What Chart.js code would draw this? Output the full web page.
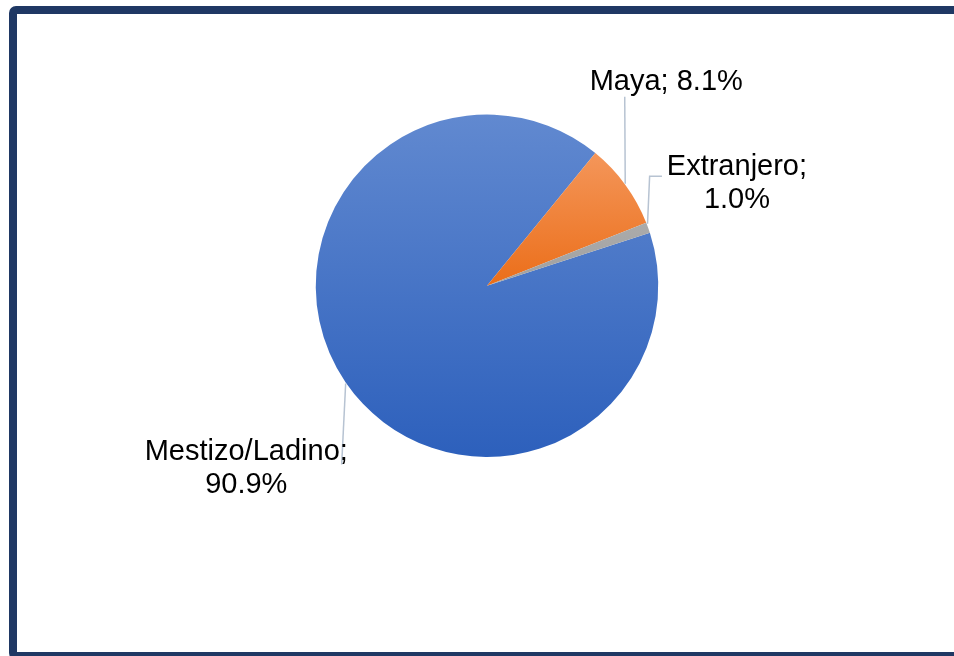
<!DOCTYPE html>
<html><head><meta charset="utf-8">
<script src="https://cdn.jsdelivr.net/npm/chart.js@4/dist/chart.umd.min.js"></script>
<style>
html,body{margin:0;padding:0;background:#fff;width:954px;height:656px;overflow:hidden}
#wrap{position:absolute;left:0;top:0;width:954px;height:656px}
#frame{position:absolute;left:9px;top:6px;width:990px;height:654px;border:8px solid #1F3864;border-radius:7px;box-sizing:border-box;pointer-events:none}
</style></head><body>
<div id="wrap"><canvas id="c"></canvas></div>
<div id="frame"></div>
<script>
const categories = ['Mestizo/Ladino', 'Maya', 'Extranjero'];
const values = [90.9, 8.1, 1.0];
const breakAfterName = [true, false, true];
const gradTop = ['#6189D0', '#F4965A', '#ABABAB'];
const gradBottom = ['#2D60BC', '#EB6E19', '#A0A0A0'];

// label layout relative to slice's outer mid-point (layout only)
const labelLayout = [
  { leader: [[0, 1], [-4, 82]], text: [-99.4, 77.9] },
  { leader: [[0, -1], [-0.5, -88]], text: [41, -94.3] },
  { leader: [[-0.6, -4], [1.5, -51.6], [13.8, -51.6]], text: [88.8, -52.6] }
];

const FONT = '29px "Liberation Sans", Arial, sans-serif';
const LINE_H = 33;

function labelLines(i) {
  const pct = values[i].toFixed(1) + '%';
  return breakAfterName[i] ? [categories[i] + ';', pct] : [categories[i] + '; ' + pct];
}

const gradientPlugin = {
  id: 'gradFill',
  beforeDatasetsDraw(chart) {
    const ctx = chart.ctx;
    chart.getDatasetMeta(0).data.forEach((el, i) => {
      const p = el.getProps(['x', 'y', 'startAngle', 'endAngle', 'outerRadius'], true);
      let minY = p.y, maxY = p.y;
      const n = 60;
      for (let k = 0; k <= n; k++) {
        const a = p.startAngle + (p.endAngle - p.startAngle) * k / n;
        const yy = p.y + p.outerRadius * Math.sin(a);
        minY = Math.min(minY, yy); maxY = Math.max(maxY, yy);
      }
      const g = ctx.createLinearGradient(0, minY, 0, maxY);
      g.addColorStop(0, gradTop[i]);
      g.addColorStop(1, gradBottom[i]);
      el.options.backgroundColor = g;
    });
  }
};

const labelPlugin = {
  id: 'leaderLabels',
  afterDatasetsDraw(chart) {
    const ctx = chart.ctx;
    chart.getDatasetMeta(0).data.forEach((el, i) => {
      const p = el.getProps(['x', 'y', 'startAngle', 'endAngle', 'outerRadius'], true);
      const mid = (p.startAngle + p.endAngle) / 2;
      const ex = p.x + p.outerRadius * Math.cos(mid);
      const ey = p.y + p.outerRadius * Math.sin(mid);
      const L = labelLayout[i];
      ctx.save();
      ctx.strokeStyle = '#B7C3D2';
      ctx.lineWidth = 1.5;
      ctx.beginPath();
      L.leader.forEach((pt, k) => {
        if (k === 0) ctx.moveTo(ex + pt[0], ey + pt[1]);
        else ctx.lineTo(ex + pt[0], ey + pt[1]);
      });
      ctx.stroke();
      ctx.fillStyle = '#000';
      ctx.font = FONT;
      ctx.textAlign = 'center';
      ctx.textBaseline = 'alphabetic';
      labelLines(i).forEach((t, k) => {
        ctx.fillText(t, ex + L.text[0], ey + L.text[1] + k * LINE_H);
      });
      ctx.restore();
    });
  }
};

new Chart(document.getElementById('c'), {
  type: 'pie',
  data: {
    labels: categories,
    datasets: [{
      data: values,
      backgroundColor: gradTop.slice(),
      borderWidth: 0
    }]
  },
  options: {
    responsive: true,
    maintainAspectRatio: false,
    animation: false,
    events: [],
    rotation: 72,
    layout: { padding: { top: 114.5, bottom: 199, left: 200, right: 180 } },
    plugins: { legend: { display: false }, tooltip: { enabled: false } }
  },
  plugins: [gradientPlugin, labelPlugin]
});
</script>
</body></html>
